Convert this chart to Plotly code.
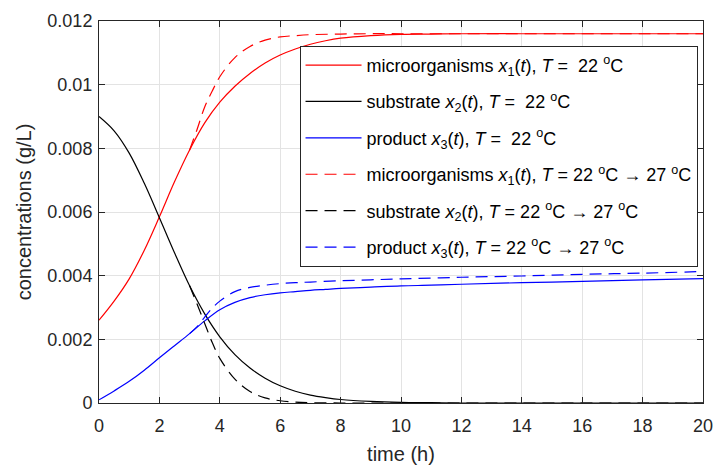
import plotly.graph_objects as go

# time points (h)
t_full = [0, 0.5, 1, 1.5, 2, 2.5, 3, 3.5, 4, 4.5, 5, 5.5, 6, 6.5, 7, 7.5, 8, 9, 10, 11, 12, 14, 16, 18, 20]
t_switch = [3, 3.25, 3.5, 3.75, 4, 4.5, 5, 5.5, 6, 6.5, 7, 8, 9, 10, 12, 14, 16, 18, 20]

# T = 22 C (solid)
x1_22 = [0.0026, 0.0032, 0.0039, 0.0048, 0.00585, 0.00695, 0.00795, 0.0088, 0.00945, 0.00995, 0.01035,
         0.01068, 0.01093, 0.01112, 0.01127, 0.01138, 0.01146, 0.01154, 0.01158, 0.01159, 0.0116,
         0.0116, 0.0116, 0.0116, 0.0116]
x2_22 = [0.0090, 0.00855, 0.00785, 0.0069, 0.00582, 0.00472, 0.00368, 0.0028, 0.00208, 0.00152, 0.0011,
         0.00078, 0.00054, 0.00037, 0.00025, 0.00017, 0.00011, 0.00005, 0.00002, 0.00001, 0.0,
         0.0, 0.0, 0.0, 0.0]
x3_22 = [0.0001, 0.00038, 0.00068, 0.00103, 0.00142, 0.0018, 0.00218, 0.00258, 0.00293, 0.00316, 0.00331,
         0.0034, 0.00346, 0.0035, 0.00354, 0.00357, 0.0036, 0.00364, 0.00368, 0.0037, 0.00373,
         0.00378, 0.00382, 0.00387, 0.00391]

# T = 22 C -> 27 C (dashed)
x1_27 = [0.00795, 0.0086, 0.0093, 0.0098, 0.01025, 0.01085, 0.0112, 0.0114, 0.0115, 0.01154, 0.01157,
         0.01159, 0.0116, 0.0116, 0.0116, 0.0116, 0.0116, 0.0116, 0.0116]
x2_27 = [0.00368, 0.0031, 0.0025, 0.0019, 0.0014, 0.00075, 0.00036, 0.00016, 0.00007, 0.00003, 0.00001,
         0.0, 0.0, 0.0, 0.0, 0.0, 0.0, 0.0, 0.0]
x3_27 = [0.00218, 0.0024, 0.0027, 0.00298, 0.0032, 0.0035, 0.00363, 0.0037, 0.00375, 0.00378, 0.0038,
         0.00384, 0.00387, 0.0039, 0.00395, 0.00399, 0.00404, 0.00408, 0.00413]

y_ticks = [0, 0.002, 0.004, 0.006, 0.008, 0.01, 0.012]
y_ticktext = ["0", "0.002", "0.004", "0.006", "0.008", "0.01", "0.012"]
x_ticks = [0, 2, 4, 6, 8, 10, 12, 14, 16, 18, 20]

names = [
    "microorganisms <i>x</i><sub>1</sub>(<i>t</i>), <i>T</i> =  22 <sup>o</sup>C",
    "substrate <i>x</i><sub>2</sub>(<i>t</i>), <i>T</i> =  22 <sup>o</sup>C",
    "product <i>x</i><sub>3</sub>(<i>t</i>), <i>T</i> =  22 <sup>o</sup>C",
    "microorganisms <i>x</i><sub>1</sub>(<i>t</i>), <i>T</i> = 22 <sup>o</sup>C → 27 <sup>o</sup>C",
    "substrate <i>x</i><sub>2</sub>(<i>t</i>), <i>T</i> = 22 <sup>o</sup>C → 27 <sup>o</sup>C",
    "product <i>x</i><sub>3</sub>(<i>t</i>), <i>T</i> = 22 <sup>o</sup>C → 27 <sup>o</sup>C",
]

FONT = "Liberation Sans, Arial, sans-serif"
fig = go.Figure()
series = [
    (t_full, x1_22, "#ff0000", "solid"),
    (t_full, x2_22, "#000000", "solid"),
    (t_full, x3_22, "#0000ff", "solid"),
    (t_switch, x1_27, "#ff0000", "12px,7px"),
    (t_switch, x2_27, "#000000", "12px,7px"),
    (t_switch, x3_27, "#0000ff", "12px,7px"),
]
for i, (tx, ys, col, dash) in enumerate(series):
    fig.add_trace(go.Scatter(
        x=tx, y=ys, mode="lines", name=names[i], legendgroup=str(i),
        line=dict(color=col, width=1.2, dash=dash, shape="spline", smoothing=1.0),
    ))

axis_common = dict(
    showline=True, linecolor="#262626", linewidth=1, mirror="ticks",
    ticks="inside", ticklen=6, tickcolor="#262626", tickwidth=1,
    showgrid=True, gridcolor="#e3e3e3", gridwidth=1, zeroline=False,
    tickfont=dict(family=FONT, size=18, color="#262626"),
    ticklabeloverflow="allow",
)
fig.update_xaxes(range=[0, 20], tickvals=x_ticks, ticklabelstandoff=6,
                 title=dict(text="time (h)", font=dict(family=FONT, size=20, color="#262626"), standoff=12),
                 **axis_common)
fig.update_yaxes(range=[0, 0.012], tickvals=y_ticks, ticktext=y_ticktext, ticklabelstandoff=2,
                 title=dict(text="concentrations (g/L)", font=dict(family=FONT, size=20, color="#262626"), standoff=10),
                 **axis_common)

fig.update_layout(
    width=724, height=473,
    margin=dict(l=99, r=11, t=15, b=60),
    paper_bgcolor="white", plot_bgcolor="white",
    font=dict(family=FONT, color="#000000"),
    legend=dict(
        x=0.332, y=0.935, xanchor="left", yanchor="top",
        bgcolor="white", bordercolor="#262626", borderwidth=1,
        font=dict(family=FONT, size=18, color="#000000"),
        tracegroupgap=10, itemwidth=56,
    ),
    showlegend=True,
)

# remove the default page margin so the figure sits at the window's top-left corner
fig.write_html("out.html", config={"displayModeBar": False},
               post_script="document.body.style.margin='0';")
